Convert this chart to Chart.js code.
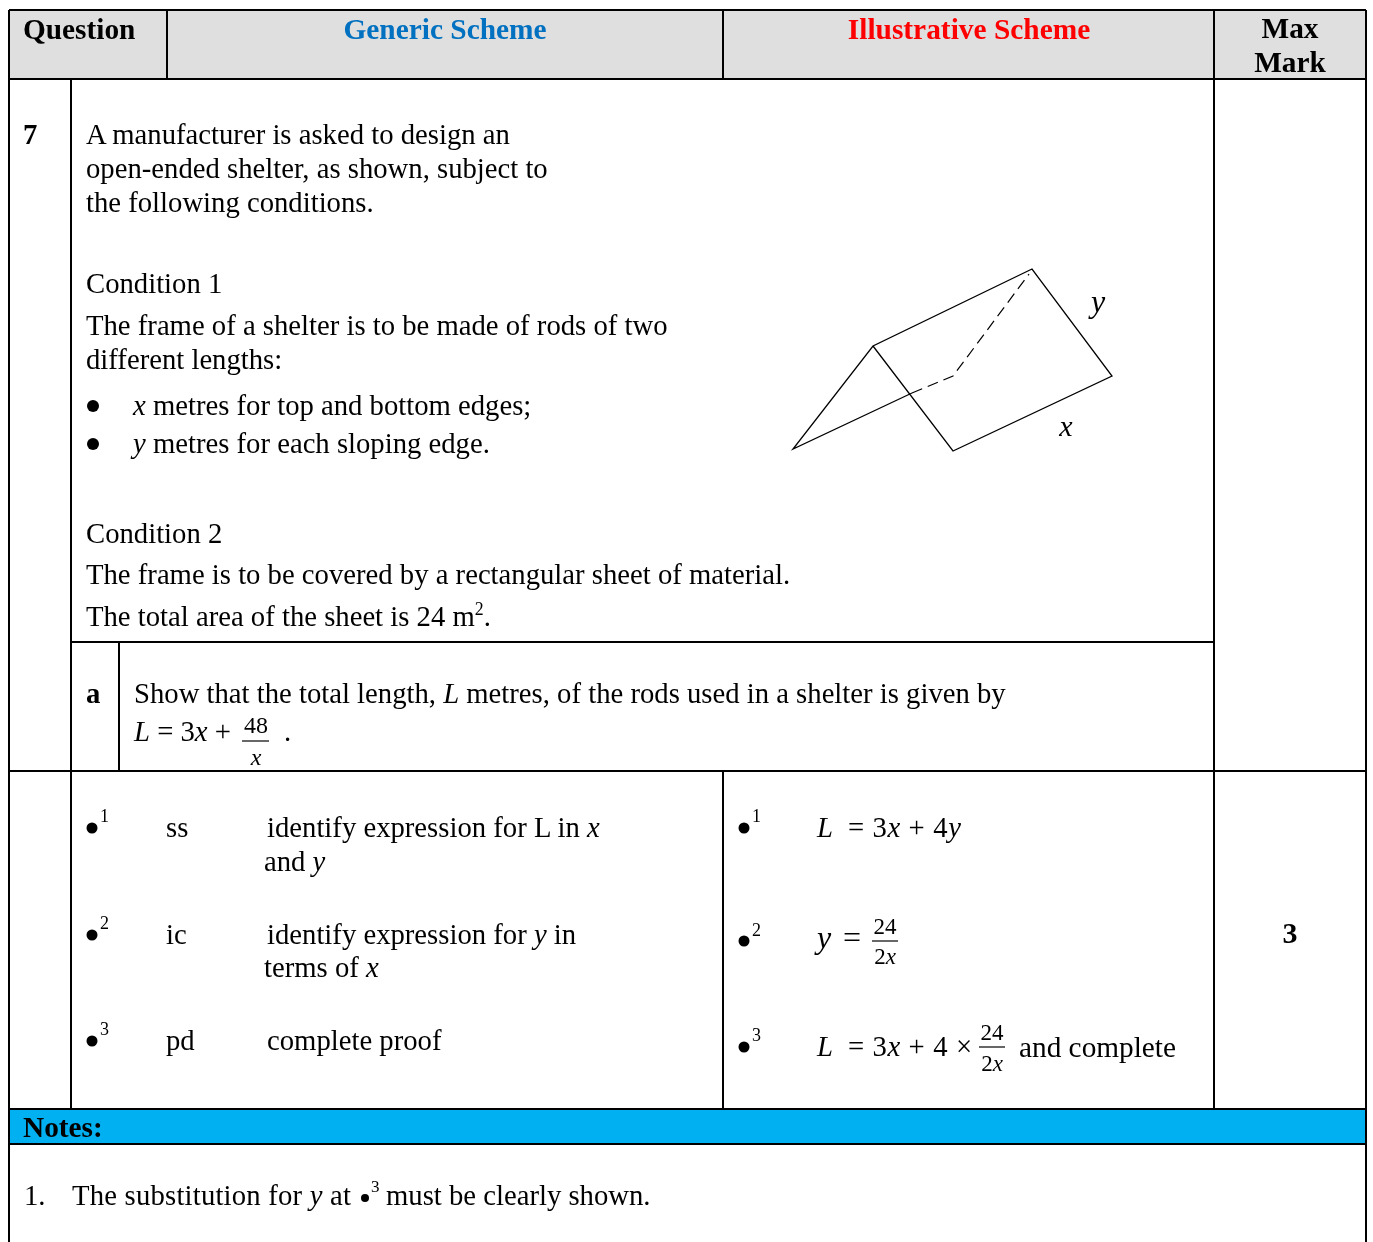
<!DOCTYPE html>
<html>
<head>
<meta charset="utf-8">
<script src="https://cdn.jsdelivr.net/npm/chart.js@4"></script>
<style>
    html, body { margin: 0; padding: 0; background: #fff; }
    #page { position: relative; width: 1373px; height: 1242px; overflow: hidden; }
    canvas { position: absolute; left: 0; top: 0; }
    .t { position: absolute; white-space: pre; color: #000; font-family: "Liberation Serif", serif; line-height: 1.107; }
    .t i { font-style: italic; }
    .t sup { font-size: 0.62em; line-height: 0; vertical-align: baseline; position: relative; top: -0.62em; }
    .mid { transform: translateX(-50%); }
</style>
</head>
<body>
<div id="page"><canvas id="sheet" width="1373" height="1242"></canvas></div>
<script>
// table rules as [x1, y1, x2, y2]
const tableRules = [
    [9, 10, 1366, 10], [9, 79, 1366, 79], [72, 642, 1214, 642], [9, 771, 1366, 771],
    [9, 1109, 1366, 1109], [9, 1144, 1366, 1144],
    [9, 10, 9, 1242], [1366, 10, 1366, 1242], [167, 10, 167, 79], [723, 10, 723, 79],
    [1214, 10, 1214, 1109], [71, 79, 71, 1109], [119, 642, 119, 771], [723, 771, 723, 1109]
];
const headerBand = [[9, 10], [1366, 10], [1366, 79], [9, 79], [9, 10]];
const notesBand = [[9, 1109], [1366, 1109], [1366, 1144], [9, 1144], [9, 1109]];

// the shelter drawing
const shelterOutline = [[912, 393], [793, 449], [873, 346], [1032, 269], [1112, 376], [953, 451], [873, 346]];
const shelterHidden = [[912, 393], [953, 376], [1029, 274]];

// fraction bars
const fractionBars = [[242, 741, 269, 741], [872, 941, 898, 941], [979, 1047, 1005, 1047]];

// bullets
const listBullets = [[93, 406], [93, 444]];
const schemeBullets = [[92, 828], [92, 935], [92, 1041], [744, 828], [744, 941], [744, 1047]];
const noteBullets = [[365, 1198]];

// [x, baseline, size, html, style]
const headerLabels = [
    [23, 39, 29.3, 'Question', 'font-weight:bold'],
    [445, 39, 29.4, 'Generic Scheme', 'font-weight:bold;color:#0070c0', 'mid'],
    [969, 39, 29.4, 'Illustrative Scheme', 'font-weight:bold;color:#ff0000', 'mid'],
    [1290, 38, 29.3, 'Max', 'font-weight:bold', 'mid'],
    [1290, 72, 29.3, 'Mark', 'font-weight:bold', 'mid']
];
const questionLines = [
    [23, 145, 28.7, '7', 'font-weight:bold'],
    [86, 145, 28.7, 'A manufacturer is asked to design an'],
    [86, 179, 28.7, 'open-ended shelter, as shown, subject to'],
    [86, 213, 28.7, 'the following conditions.'],
    [86, 294, 28.7, 'Condition 1'],
    [86, 336, 28.7, 'The frame of a shelter is to be made of rods of two'],
    [86, 370, 28.7, 'different lengths:'],
    [133, 416, 28.7, '<i>x</i> metres for top and bottom edges;'],
    [133, 454, 28.7, '<i>y</i> metres for each sloping edge.'],
    [86, 544, 28.7, 'Condition 2'],
    [86, 585, 28.7, 'The frame is to be covered by a rectangular sheet of material.'],
    [86, 627, 28.7, 'The total area of the sheet is 24 m<sup>2</sup>.'],
    [1098, 313, 32, '<i>y</i>', '', 'mid'],
    [1066, 436, 30, '<i>x</i>', '', 'mid'],
    [86, 704, 28.7, 'a', 'font-weight:bold'],
    [134, 704, 28.7, 'Show that the total length, <i>L</i> metres, of the rods used in a shelter is given by'],
    [134, 742, 28.7, '<i>L</i> = 3<i>x</i> +'],
    [256, 733, 24, '48', '', 'mid'],
    [256, 765, 24, '<i>x</i>', '', 'mid'],
    [284, 742, 28.7, '.']
];
const schemeLines = [
    [100, 823, 18, '1'],
    [166, 838, 28.7, 'ss'],
    [267, 838, 28.7, 'identify expression for L in <i>x</i>'],
    [264, 872, 28.7, 'and <i>y</i>'],
    [100, 930, 18, '2'],
    [166, 945, 28.7, 'ic'],
    [267, 945, 28.7, 'identify expression for <i>y</i> in'],
    [264, 978, 28.7, 'terms of <i>x</i>'],
    [100, 1036, 18, '3'],
    [166, 1051, 28.7, 'pd'],
    [267, 1051, 28.7, 'complete proof'],
    [752, 823, 18, '1'],
    [817, 838, 28.7, '<i>L</i>'],
    [848, 838, 28.7, '= 3<i>x</i> + 4<i>y</i>', 'letter-spacing:0.6px'],
    [752, 937, 18, '2'],
    [817, 949, 32, '<i>y</i>'],
    [843, 949, 32, '='],
    [885, 934, 23, '24', '', 'mid'],
    [885, 964, 23, '2<i>x</i>', '', 'mid'],
    [1290, 943, 30, '3', 'font-weight:bold', 'mid'],
    [752, 1042, 18, '3'],
    [817, 1057, 28.7, '<i>L</i>'],
    [848, 1057, 28.7, '= 3<i>x</i> + 4 ×', 'letter-spacing:0.6px'],
    [992, 1040, 23, '24', '', 'mid'],
    [992, 1071, 23, '2<i>x</i>', '', 'mid'],
    [1019, 1057, 29.3, 'and complete']
];
const noteLines = [
    [23, 1137, 29.3, 'Notes:', 'font-weight:bold'],
    [24, 1206, 28.7, '1.'],
    [72, 1206, 28.7, 'The substitution for <i>y</i> at', 'letter-spacing:0.2px'],
    [371, 1193, 17, '3'],
    [386, 1206, 28.7, 'must be clearly shown.']
];

function toPoints(list) {
    return list.map(p => ({ x: p[0], y: p[1] }));
}

function lineSet(points, width, dash) {
    return {
        data: toPoints(points),
        showLine: true,
        pointRadius: 0,
        borderColor: '#000',
        borderWidth: width,
        borderDash: dash || [],
        fill: false,
        order: 1
    };
}

function bandSet(points, colour) {
    return {
        data: toPoints(points),
        showLine: true,
        pointRadius: 0,
        borderWidth: 0,
        backgroundColor: colour,
        fill: 'shape',
        order: 5
    };
}

function bulletSet(points, radius) {
    return {
        data: toPoints(points),
        showLine: false,
        pointRadius: radius,
        pointBorderWidth: 0,
        pointBackgroundColor: '#000',
        order: 1
    };
}

const datasets = [
    bandSet(headerBand, '#dfdfdf'),
    bandSet(notesBand, '#00b0f0'),
    lineSet(shelterOutline, 1.3),
    lineSet(shelterHidden, 1.2, [11, 6]),
    bulletSet(listBullets, 6),
    bulletSet(schemeBullets, 5.5),
    bulletSet(noteBullets, 4)
];
tableRules.forEach(r => datasets.push(lineSet([[r[0], r[1]], [r[2], r[3]]], 2)));
fractionBars.forEach(r => datasets.push(lineSet([[r[0], r[1]], [r[2], r[3]]], 1.2)));

new Chart(document.getElementById('sheet'), {
    type: 'scatter',
    data: { datasets },
    options: {
        responsive: false,
        animation: false,
        layout: { padding: 0, autoPadding: false },
        plugins: { legend: { display: false }, tooltip: { enabled: false } },
        scales: {
            x: { type: 'linear', min: 0, max: 1373, display: false },
            y: { type: 'linear', min: 0, max: 1242, reverse: true, display: false }
        }
    }
});

// text goes on top of the chart as ordinary page text
const page = document.getElementById('page');
[headerLabels, questionLines, schemeLines, noteLines].forEach(group => {
    group.forEach(item => {
        const el = document.createElement('div');
        el.className = 't ' + (item[5] || '');
        el.style.cssText = (item[4] || '') + ';left:' + item[0] + 'px;top:' + (item[1] - 0.891 * item[2]) + 'px;font-size:' + item[2] + 'px';
        el.innerHTML = item[3];
        page.appendChild(el);
    });
});
</script>
</body>
</html>
